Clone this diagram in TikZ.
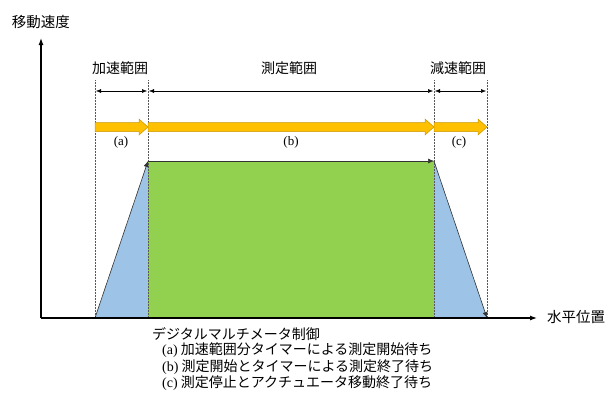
\documentclass[tikz,border=0pt]{standalone}
\usepackage{fontspec}
\setmainfont{Liberation Serif}
\newfontfamily\jpfont{Noto Sans CJK JP}
\usetikzlibrary{arrows.meta}
\definecolor{accblue}{HTML}{9DC3E6}
\definecolor{measgreen}{HTML}{92D050}
\definecolor{rangeorange}{HTML}{FFC000}
\definecolor{rangeline}{HTML}{C89600}
\tikzset{
  jplabel/.style={font=\jpfont\fontsize{14}{16}\selectfont, inner sep=1pt},
  caption/.style={font=\jpfont\fontsize{14}{16}\selectfont, inner sep=1pt, anchor=west},
  caseletter/.style={font=\fontsize{13}{15}\selectfont, inner sep=1pt},
  guide/.style={densely dotted, gray!70!black, line width=0.5pt},
  dimarrow/.style={{Latex[length=5pt,width=4pt]}-{Latex[length=5pt,width=4pt]}, line width=0.5pt},
  rangearrow/.style={fill=rangeorange, draw=rangeline, line width=0.5pt},
  profile/.style={-{Latex[length=6pt,width=5pt]}, line width=0.6pt, black!80},
  axis/.style={-{Latex[length=7pt,width=5pt]}, line width=1.2pt}
}
\begin{document}
\begin{tikzpicture}[x=1pt, y=-1pt]
  \useasboundingbox (0,0) rectangle (607,394);

  % corner points of the profile
  \coordinate (origin) at (41,318);
  \coordinate (ytip) at (41,38);
  \coordinate (xtip) at (537,318);
  \coordinate (accstart) at (95,318);
  \coordinate (accend) at (148,161);
  \coordinate (decstart) at (434,161);
  \coordinate (decend) at (487,318);

  % areas
  \fill[accblue] (accstart) -- (accend) -- (148,318) -- cycle;
  \fill[accblue] (decstart) -- (decend) -- (434,318) -- cycle;
  \fill[measgreen] (accend) rectangle (434,318);

  % guide lines
  \foreach \gx in {95,148,434,487}
    \draw[guide] (\gx,80) -- (\gx,318);

  % ranges
  \node[jplabel] (acclabel) at (120,68) {加速範囲};
  \node[jplabel] (measlabel) at (289,68) {測定範囲};
  \node[jplabel] (declabel) at (458,68) {減速範囲};
  \draw[dimarrow] (96,91) -- (147,91);
  \draw[dimarrow] (149,91) -- (433,91);
  \draw[dimarrow] (435,91) -- (486,91);

  \foreach \s/\e in {95/148,148/434,434/487}
    \draw[rangearrow] (\s,122.5) -- (\e-9,122.5) -- (\e-9,119) -- (\e,127)
      -- (\e-9,135) -- (\e-9,131.5) -- (\s,131.5) -- cycle;
  \node[caseletter] (casea) at (121,142) {(a)};
  \node[caseletter] (caseb) at (291,142) {(b)};
  \node[caseletter] (casec) at (459,142) {(c)};

  % speed profile
  \draw[profile] (accstart) -- (accend);
  \draw[profile] (accend) -- (decstart);
  \draw[profile] (decstart) -- (decend);

  % axes
  \draw[axis] (origin) -- (ytip);
  \draw[axis] (origin) -- (xtip);
  \node[jplabel, font=\jpfont\fontsize{14.5}{16}\selectfont] (ylabel) at (41,22) {移動速度};
  \node[jplabel, font=\jpfont\fontsize{14.5}{16}\selectfont, anchor=west] (xlabel) at (546,317) {水平位置};

  % caption
  \node[caption] (dmmlabel) at (151,334) {デジタルマルチメータ制御};
  \node[caption] (capa) at (161,350.5) {{\rmfamily(a)} 加速範囲分タイマーによる測定開始待ち};
  \node[caption] (capb) at (161,367) {{\rmfamily(b)} 測定開始とタイマーによる測定終了待ち};
  \node[caption] (capc) at (161,383.5) {{\rmfamily(c)} 測定停止とアクチュエータ移動終了待ち};
\end{tikzpicture}
\end{document}
